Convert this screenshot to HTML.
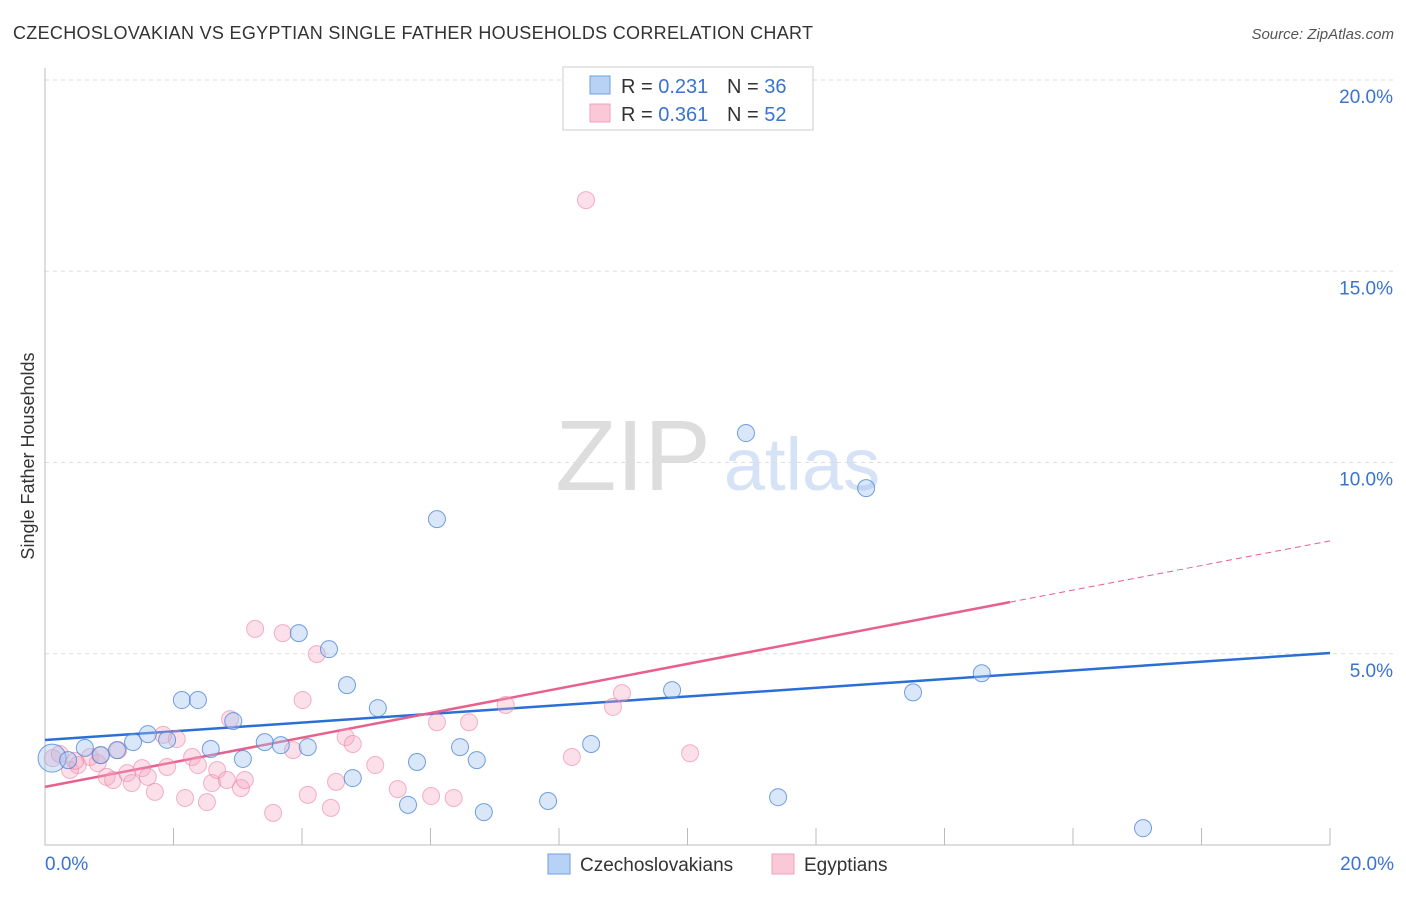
<!DOCTYPE html>
<html><head><meta charset="utf-8"><style>
body{margin:0;background:#fff;font-family:"Liberation Sans",sans-serif}
svg text{font-family:"Liberation Sans",sans-serif}
</style></head><body>
<svg id="chart" width="1406" height="892" xmlns="http://www.w3.org/2000/svg">
<text x="13" y="39" font-size="18" fill="#333" textLength="800">CZECHOSLOVAKIAN VS EGYPTIAN SINGLE FATHER HOUSEHOLDS CORRELATION CHART</text>
<text x="1394" y="39" font-size="15" fill="#555" text-anchor="end" font-style="italic">Source: ZipAtlas.com</text>
<text transform="translate(34,456) rotate(-90)" font-size="18" fill="#333" text-anchor="middle">Single Father Households</text>
<g><text x="633" y="490" font-size="100" fill="#ddd" font-family="Liberation Serif" text-anchor="middle">ZIP</text><text x="802" y="490" font-size="74" fill="#d6e2f5" text-anchor="middle">atlas</text></g>
<g id="grid"></g><g id="axes"></g><g id="lines"></g><g id="pts"></g>
<g>
<rect x="563" y="67" width="250" height="63" fill="#fff" stroke="#ccc"/>
<rect x="590" y="76" width="20" height="18" fill="#b8d2f5" stroke="#6f9fe0"/>
<text x="621" y="93" font-size="20" fill="#333">R = <tspan fill="#3a73d0">0.231</tspan></text>
<text x="727" y="93" font-size="20" fill="#333">N = <tspan fill="#3a73d0">36</tspan></text>
<rect x="590" y="104" width="20" height="18" fill="#fbc8d8" stroke="#f0a0b8"/>
<text x="621" y="121" font-size="20" fill="#333">R = <tspan fill="#3a73d0">0.361</tspan></text>
<text x="727" y="121" font-size="20" fill="#333">N = <tspan fill="#3a73d0">52</tspan></text>
</g>
<g>
<rect x="548" y="854" width="22" height="20" fill="#b8d2f5" stroke="#6f9fe0"/>
<text x="580" y="871" font-size="19" fill="#333">Czechoslovakians</text>
<rect x="772" y="854" width="22" height="20" fill="#fbc8d8" stroke="#f0a0b8"/>
<text x="804" y="871" font-size="19" fill="#333">Egyptians</text>
</g>
</svg>
<script>
const yTicks=[5,10,15,20];
const yTickLabels=["5.0%","10.0%","15.0%","20.0%"];
const xTickLabels=["0.0%","20.0%"];
const czechX=[0.11,0.36,0.62,0.87,1.12,1.37,1.60,1.90,2.13,2.38,2.58,2.93,3.08,3.42,3.67,3.95,4.09,4.42,4.70,4.79,5.18,5.65,5.79,6.10,6.46,6.72,6.83,7.83,8.50,9.76,10.91,11.41,12.78,13.51,14.58,17.09];
const czechY=[2.27,2.22,2.54,2.35,2.48,2.69,2.90,2.75,3.79,3.79,2.51,3.24,2.25,2.69,2.61,5.54,2.56,5.12,4.18,1.75,3.58,1.05,2.17,8.52,2.56,2.22,0.86,1.15,2.64,4.05,10.77,1.25,9.33,3.99,4.49,0.44];
const egyptX=[3.27,3.70,4.23,4.01,2.88,1.84,2.05,1.14,0.12,0.70,0.39,0.51,0.82,0.96,1.06,1.28,1.35,1.51,1.60,1.71,1.90,2.18,2.29,2.38,2.52,2.60,2.68,2.83,3.05,3.11,3.55,3.86,4.09,4.45,4.53,4.68,4.79,5.14,5.49,6.01,6.10,6.36,6.60,7.17,8.84,8.98,8.20,10.04,8.42,0.23,0.86,0.47];
const egyptY=[5.65,5.54,4.99,3.79,3.29,2.88,2.77,2.48,2.27,2.30,1.96,2.09,2.14,1.78,1.70,1.88,1.62,2.01,1.78,1.39,2.04,1.23,2.30,2.09,1.12,1.62,1.96,1.70,1.49,1.70,0.84,2.48,1.31,0.97,1.65,2.82,2.64,2.09,1.46,1.28,3.21,1.23,3.21,3.66,3.61,3.97,2.30,2.40,16.86,2.38,2.35,2.20];
const blueFit=[2.745,5.02], pinkFit=[1.52,7.95], pinkSolidEnd=15.02;
const NS="http://www.w3.org/2000/svg";
const X=v=>45+v/20*1285, Y=v=>845-v*38.25;
function mk(t,a,p){const e=document.createElementNS(NS,t);for(const k in a)e.setAttribute(k,a[k]);p.appendChild(e);return e;}
const grid=document.getElementById('grid'),axes=document.getElementById('axes');
yTicks.forEach((t,i)=>{
 const l=mk('line',{x1:45,x2:1395,y1:Y(t),y2:Y(t),stroke:'#ddd','stroke-dasharray':'4,4'},grid);
 
 
 const tx=mk('text',{x:1393,y:Y(t)+23,'font-size':19,fill:'#3a73d0','text-anchor':'end'},grid);
 tx.textContent=yTickLabels[i];
 
 
});
const ax=mk('path',{d:'M45,68V845H1330',stroke:'#bbb',fill:'none'},axes);


for(let i=1;i<=10;i++){const t=mk('line',{x1:X(i*2),x2:X(i*2),y1:828,y2:845,stroke:'#bbb'},axes);
 
 }
[[0,'start',45],[20,'end',1394]].forEach((d,i)=>{const t=mk('text',{x:d[2],y:870,'font-size':19,fill:'#3a73d0','text-anchor':d[1]},axes);t.textContent=xTickLabels[i];
 
 });
const pts=document.getElementById('pts');
egyptX.forEach((x,i)=>{const c=mk('circle',{cx:X(x),cy:Y(egyptY[i]),r:8.5,fill:'rgba(245,165,192,0.35)',stroke:'rgba(235,130,165,0.6)'},pts);
 
 });
czechX.forEach((x,i)=>{const c=mk('circle',{cx:X(x),cy:Y(czechY[i]),r:i==0?14:8.5,fill:'rgba(160,195,240,0.4)',stroke:'rgba(70,130,215,0.75)'},pts);
 
 });
const lines=document.getElementById('lines');
const pf=x=>pinkFit[0]+(pinkFit[1]-pinkFit[0])*x/20;
let l1=mk('line',{x1:X(0),y1:Y(blueFit[0]),x2:X(20),y2:Y(blueFit[1]),stroke:'#2a6fd6','stroke-width':2.5},lines);


let l2=mk('line',{x1:X(0),y1:Y(pf(0)),x2:X(pinkSolidEnd),y2:Y(pf(pinkSolidEnd)),stroke:'#e8608c','stroke-width':2.5},lines);


let l3=mk('line',{x1:X(pinkSolidEnd),y1:Y(pf(pinkSolidEnd)),x2:X(20),y2:Y(pf(20)),stroke:'#e8608c','stroke-width':1,'stroke-dasharray':'6,4'},lines);


</script>
</body></html>
